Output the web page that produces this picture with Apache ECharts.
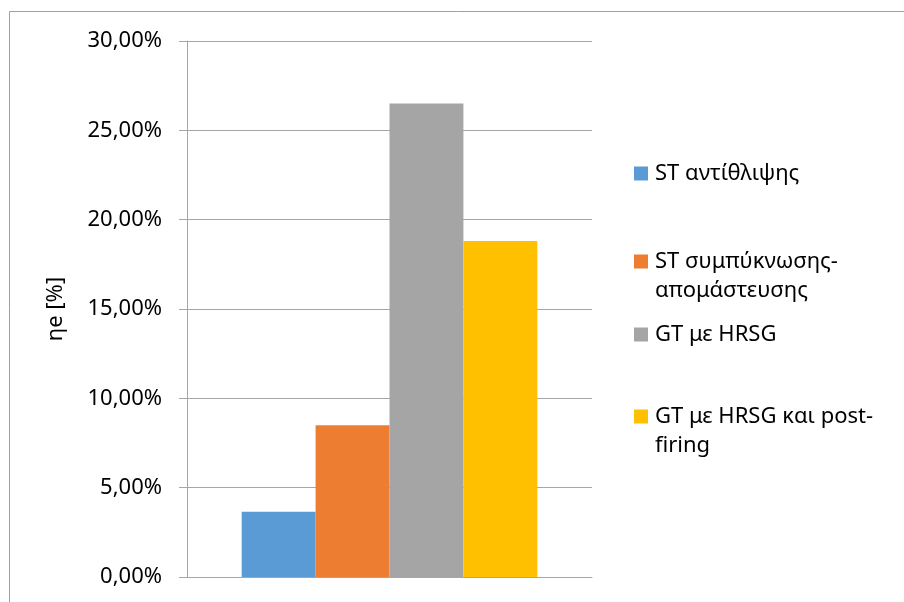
<!DOCTYPE html>
<html>
<head>
<meta charset="utf-8">
<script src="https://cdn.jsdelivr.net/npm/echarts@6/dist/echarts.min.js"></script>
<style>
  html, body { margin: 0; padding: 0; background: #fff; }
  #chart { width: 904px; height: 602px; }
</style>
</head>
<body>
<div id="chart"></div>
<script>
// σειρές (ένα μόνο κενό category)
const seriesNames = ['ST αντίθλιψης', 'ST συμπύκνωσης-\nαπομάστευσης', 'GT με HRSG', 'GT με HRSG και post-\nfiring']
const seriesValues = [3.65, 8.5, 26.5, 18.8]
const seriesColors = ['#5b9bd5', '#ed7d31', '#a5a5a5', '#ffc000']
const categories = ['']
const yTicks = [0, 5, 10, 15, 20, 25, 30]

const chart = echarts.init(document.getElementById('chart'))

const font = 'Noto Sans'
const fmt = (v) => v.toFixed(2).replace('.', ',') + '%'

// θέσεις legend (κάθε στοιχείο ξεχωριστά, όπως στο excel)
const legendTops = [159, 247, 320, 402]
const twoLines = (name) => name.indexOf('\n') >= 0

chart.setOption({
  animation: false,
  textStyle: { fontFamily: font },
  grid: { left: 187, right: 312, top: 41, bottom: 25 },
  legend: seriesNames.map((name, i) => ({
    left: 634,
    top: legendTops[i],
    padding: 0,
    data: [name],
    selectedMode: false,
    itemGap: 0,
    itemWidth: 14,
    itemHeight: twoLines(name) ? 43 : 14,
    // το τετράγωνο στοιχίζεται με την πρώτη γραμμή
    icon: twoLines(name) ? 'path://M0,0L14,0L14,14L0,14Z M0,43L0.01,43L0,43Z' : 'rect',
    textStyle: { fontFamily: font, fontSize: 22, color: '#000', lineHeight: 29, padding: [0, 0, 0, 2] }
  })),
  xAxis: {
    type: 'category',
    data: categories,
    axisLine: { lineStyle: { color: '#a6a6a6', width: 1 } },
    axisTick: { show: false },
    axisLabel: { show: false }
  },
  yAxis: {
    type: 'value',
    min: yTicks[0],
    max: yTicks[yTicks.length - 1],
    interval: 5,
    name: 'ηe [%]',
    nameLocation: 'middle',
    nameGap: 120,
    nameRotate: 90,
    nameTextStyle: { fontFamily: font, fontSize: 22, color: '#000' },
    axisLine: { show: true, lineStyle: { color: '#a6a6a6' } },
    axisTick: { show: true, length: 8, lineStyle: { color: '#a6a6a6' } },
    splitLine: { lineStyle: { color: '#a6a6a6' } },
    axisLabel: {
      formatter: (v) => fmt(v),
      fontFamily: font,
      fontSize: 22,
      color: '#000',
      margin: 25
    }
  },
  series: seriesNames.map((name, i) => ({
    name: name,
    type: 'bar',
    data: [seriesValues[i]],
    barGap: '0%',
    barCategoryGap: '27%',
    itemStyle: { color: seriesColors[i] }
  })),
  graphic: [
    {
      type: 'rect',
      shape: { x: 9.5, y: 11.5, width: 1000, height: 1000 },
      style: { fill: 'none', stroke: '#a0a0a0', lineWidth: 1 },
      silent: true
    }
  ]
})
</script>
</body>
</html>
